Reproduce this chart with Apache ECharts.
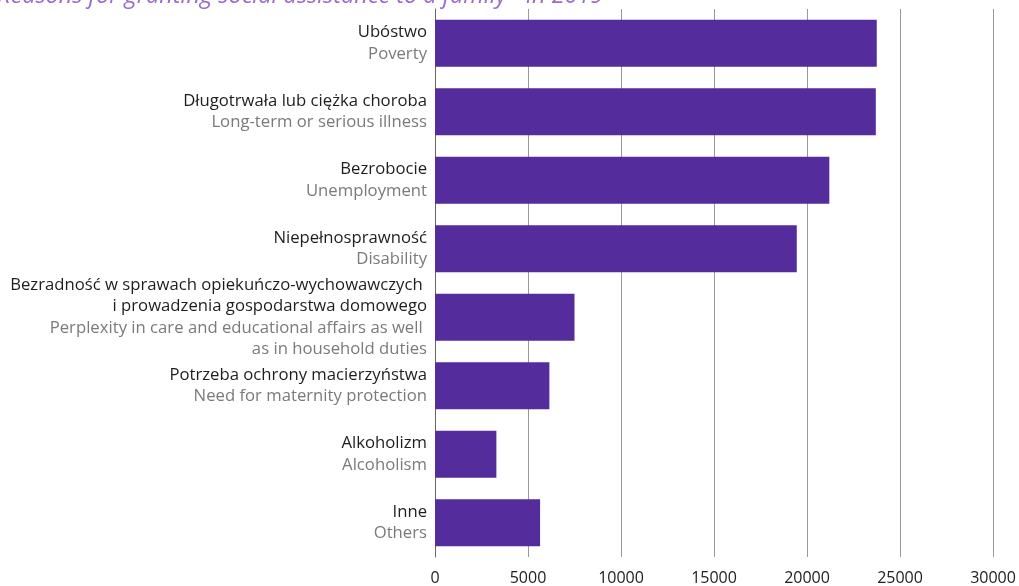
<!DOCTYPE html>
<html>
<head>
<meta charset="utf-8">
<script src="https://cdn.jsdelivr.net/npm/echarts@6/dist/echarts.min.js"></script>
<style>
  html, body { margin: 0; padding: 0; background: #fff; }
  #chart { width: 1019px; height: 586px; }
</style>
</head>
<body>
<div id="chart"></div>
<script>
// categories, top to bottom (Polish name lines / English name lines)
const labelsPl = [
  ['Ubóstwo'],
  ['Długotrwała lub ciężka choroba'],
  ['Bezrobocie'],
  ['Niepełnosprawność'],
  ['Bezradność w sprawach opiekuńczo-wychowawczych ', 'i prowadzenia gospodarstwa domowego'],
  ['Potrzeba ochrony macierzyństwa'],
  ['Alkoholizm'],
  ['Inne']
];
const labelsEn = [
  ['Poverty'],
  ['Long-term or serious illness'],
  ['Unemployment'],
  ['Disability'],
  ['Perplexity in care and educational affairs as well ', 'as in household duties'],
  ['Need for maternity protection'],
  ['Alcoholism'],
  ['Others']
];
const families = [23750, 23700, 21200, 19450, 7500, 6150, 3300, 5650];
const xTicks = [0, 5000, 10000, 15000, 20000, 25000, 30000];

const categories = labelsPl.map((_, i) => i);

const chart = echarts.init(document.getElementById('chart'));

const option = {
  animation: false,
  textStyle: { fontFamily: 'Open Sans' },
  graphic: [{
    type: 'text',
    left: -3,
    top: -15,
    style: {
      text: 'Reasons for granting social assistance to a family - in 2019',
      font: 'italic 23.5px "Open Sans"',
      fill: '#9b6bcc'
    }
  }],
  grid: {
    left: 435,
    right: 26,
    top: 9,
    bottom: 26
  },
  xAxis: {
    type: 'value',
    min: xTicks[0],
    max: xTicks[xTicks.length - 1],
    interval: 5000,
    axisLine: { show: false },
    axisTick: { show: false },
    splitLine: { lineStyle: { color: '#999', width: 1 } },
    axisLabel: {
      color: '#222',
      fontSize: 16,
      margin: 13,
      fontFamily: 'Open Sans',
      formatter: (v) => String(v)
    }
  },
  yAxis: {
    type: 'category',
    inverse: true,
    data: categories,
    axisLine: { show: true, lineStyle: { color: '#666', width: 1 } },
    axisTick: { show: false },
    axisLabel: {
      margin: 8,
      align: 'right',
      fontFamily: 'Open Sans',
      formatter: (v) => {
        const i = Number(v);
        const pl = labelsPl[i].map(s => '{pl|' + s + '}');
        const en = labelsEn[i].map(s => '{en|' + s + '}');
        return pl.concat(en).join('\n');
      },
      rich: {
        pl: { color: '#1e1e1e', fontSize: 16.7, lineHeight: 21.5, fontFamily: 'Open Sans', align: 'right' },
        en: { color: '#7a7a7a', fontSize: 16.7, lineHeight: 21.5, fontFamily: 'Open Sans', align: 'right' }
      }
    }
  },
  series: [{
    type: 'bar',
    data: families,
    barWidth: 47,
    itemStyle: { color: '#552c9b' }
  }]
};

chart.setOption(option);
</script>
</body>
</html>
